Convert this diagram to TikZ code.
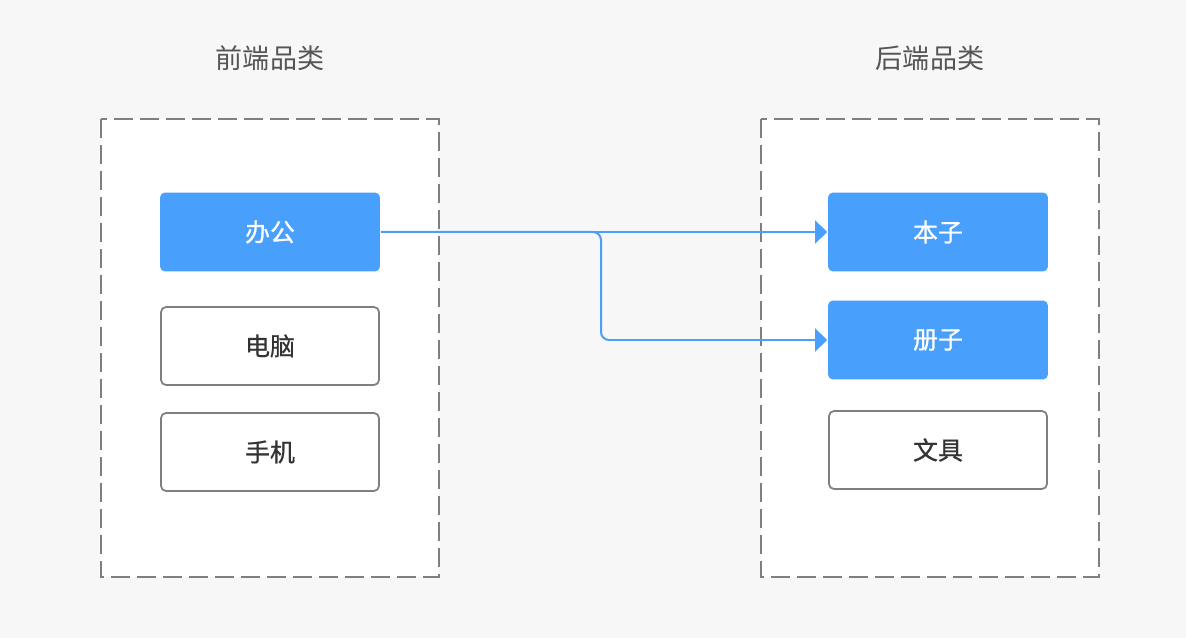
\documentclass[tikz,border=0pt]{standalone}
\usepackage{fontspec}
\setmainfont{Noto Sans CJK SC}
\newfontfamily\boxfont{Noto Sans CJK SC}[FakeBold=0.8]
\usepackage{xcolor}
\usepackage{tikz}
\usetikzlibrary{arrows.meta, positioning, calc}
\definecolor{bgray}{HTML}{F7F7F7}
\definecolor{dgray}{HTML}{7F7F7F}
\definecolor{skyblue}{HTML}{48A0FC}
\definecolor{ttext}{HTML}{555555}
\definecolor{ntext}{HTML}{333333}
\tikzset{group/.style={draw=dgray,fill=white,line width=1.1pt,dash pattern=on 0.38cm off 0.14cm},
         title/.style={text=ttext,font=\fontsize{15.4pt}{18pt}\selectfont},
         catbox/.style={rectangle,draw=dgray,fill=white,line width=1pt,rounded corners=0.1cm,minimum width=4.36cm,minimum height=1.56cm,text=ntext,font=\boxfont\fontsize{14.2pt}{17pt}\selectfont},
         selbox/.style={catbox,draw=none,fill=skyblue,text=white,minimum width=4.4cm,minimum height=1.58cm},
         link/.style={-{Triangle[length=0.24cm,width=0.46cm]},draw=skyblue,line width=0.04cm,rounded corners=0.16cm}}
\begin{document}
\begin{tikzpicture}[x=0.02cm,y=-0.02cm]
    \fill[bgray] (0,0) rectangle (1186,638);
    % two category groups
    \draw[group] (101,119) rectangle (439,577);
    \draw[group] (761,119) rectangle (1099,577);
    \node (front) [title] at (270,58) {前端品类};
    \node (back) [title] at (930,58) {后端品类};
    % front categories
    \node (bangong) [selbox] at (270,232) {办公};
    \node (diannao) [catbox] at (270,346) {电脑};
    \node (shouji) [catbox] at (270,452) {手机};
    % back categories
    \node (benzi) [selbox] at (938,232) {本子};
    \node (cezi) [selbox] at (938,340) {册子};
    \node (wenju) [catbox] at (938,450) {文具};
    % mapping
    \coordinate (fork) at (601,340);
    \draw[link] (bangong.east) -- (benzi.west);
    \draw[link] (bangong.east) -| (fork) -- (cezi.west);
  \end{tikzpicture}
\end{document}
